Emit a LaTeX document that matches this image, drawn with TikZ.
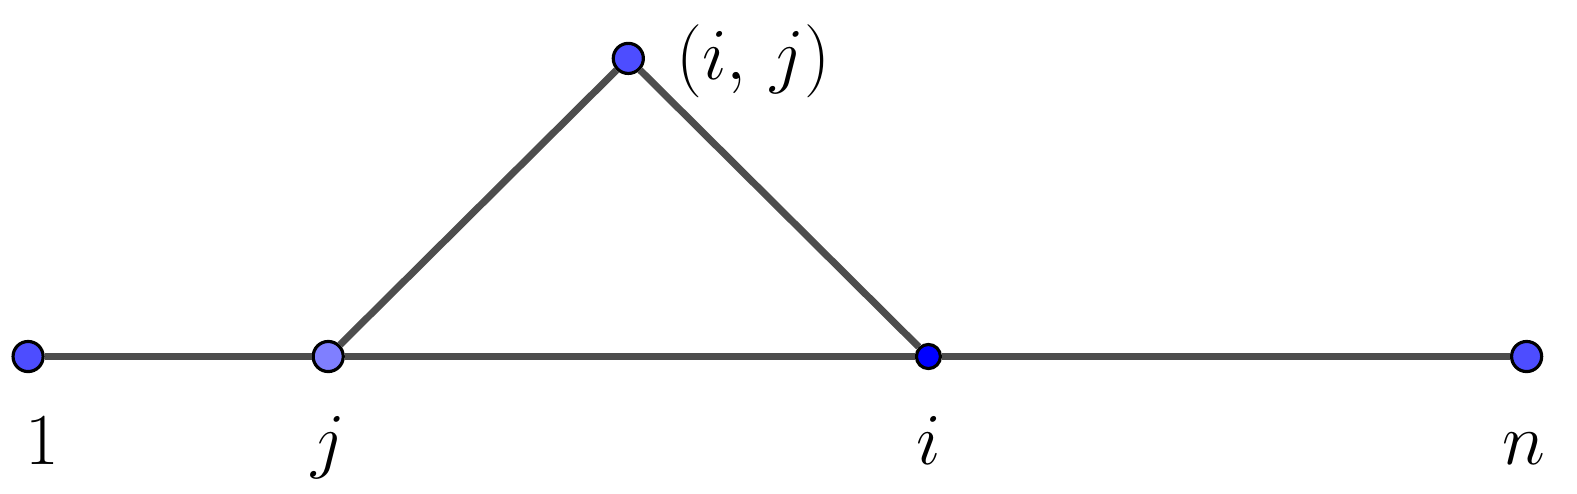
\documentclass[tikz,border=0pt]{standalone}
\usetikzlibrary{positioning}

\definecolor{dotblue}{RGB}{77,77,255}
\definecolor{dotlight}{RGB}{127,127,255}
\definecolor{edgegray}{RGB}{77,77,77}

\tikzset{
    vtx/.style={circle, draw=black, line width=0.9pt, fill=dotblue, minimum size=0.3cm, inner sep=0pt},
    edg/.style={edgegray, line width=2pt},
    lbl/.style={anchor=base, inner sep=0pt, font=\fontsize{20.5}{24}\selectfont}
}

\begin{document}
\begin{tikzpicture}[scale=1.0]

    \useasboundingbox (0, 0) rectangle (15.712, 4.912);

    % Vertices
    \node[vtx] (v1) at (0.28, 1.36) {};
    \node[vtx, fill=dotlight] (vj) at (3.27, 1.36) {};
    \node[vtx] (vij) at (6.26, 4.33) {};
    \node[vtx, fill=blue, minimum size=0.24cm] (vi) at (9.25, 1.36) {};
    \node[vtx] (vn) at (15.21, 1.36) {};

    % Edges
    \draw[edg] (v1) -- (vj);
    \draw[edg] (vj) -- (vi);
    \draw[edg] (vi) -- (vn);
    \draw[edg] (vj) -- (vij);
    \draw[edg] (vij) -- (vi);

    % Labels
    \node[lbl] (l1) at (0.42, 0.28) {$1$};
    \node[lbl] (lj) at (3.27, 0.28) {$j$};
    \node[lbl] (li) at (9.25, 0.28) {$i$};
    \node[lbl] (ln) at (15.18, 0.28) {$n$};
    \node[lbl, anchor=west] (lij) at (6.73, 4.30) {$(i,\,j)$};

\end{tikzpicture}
\end{document}
